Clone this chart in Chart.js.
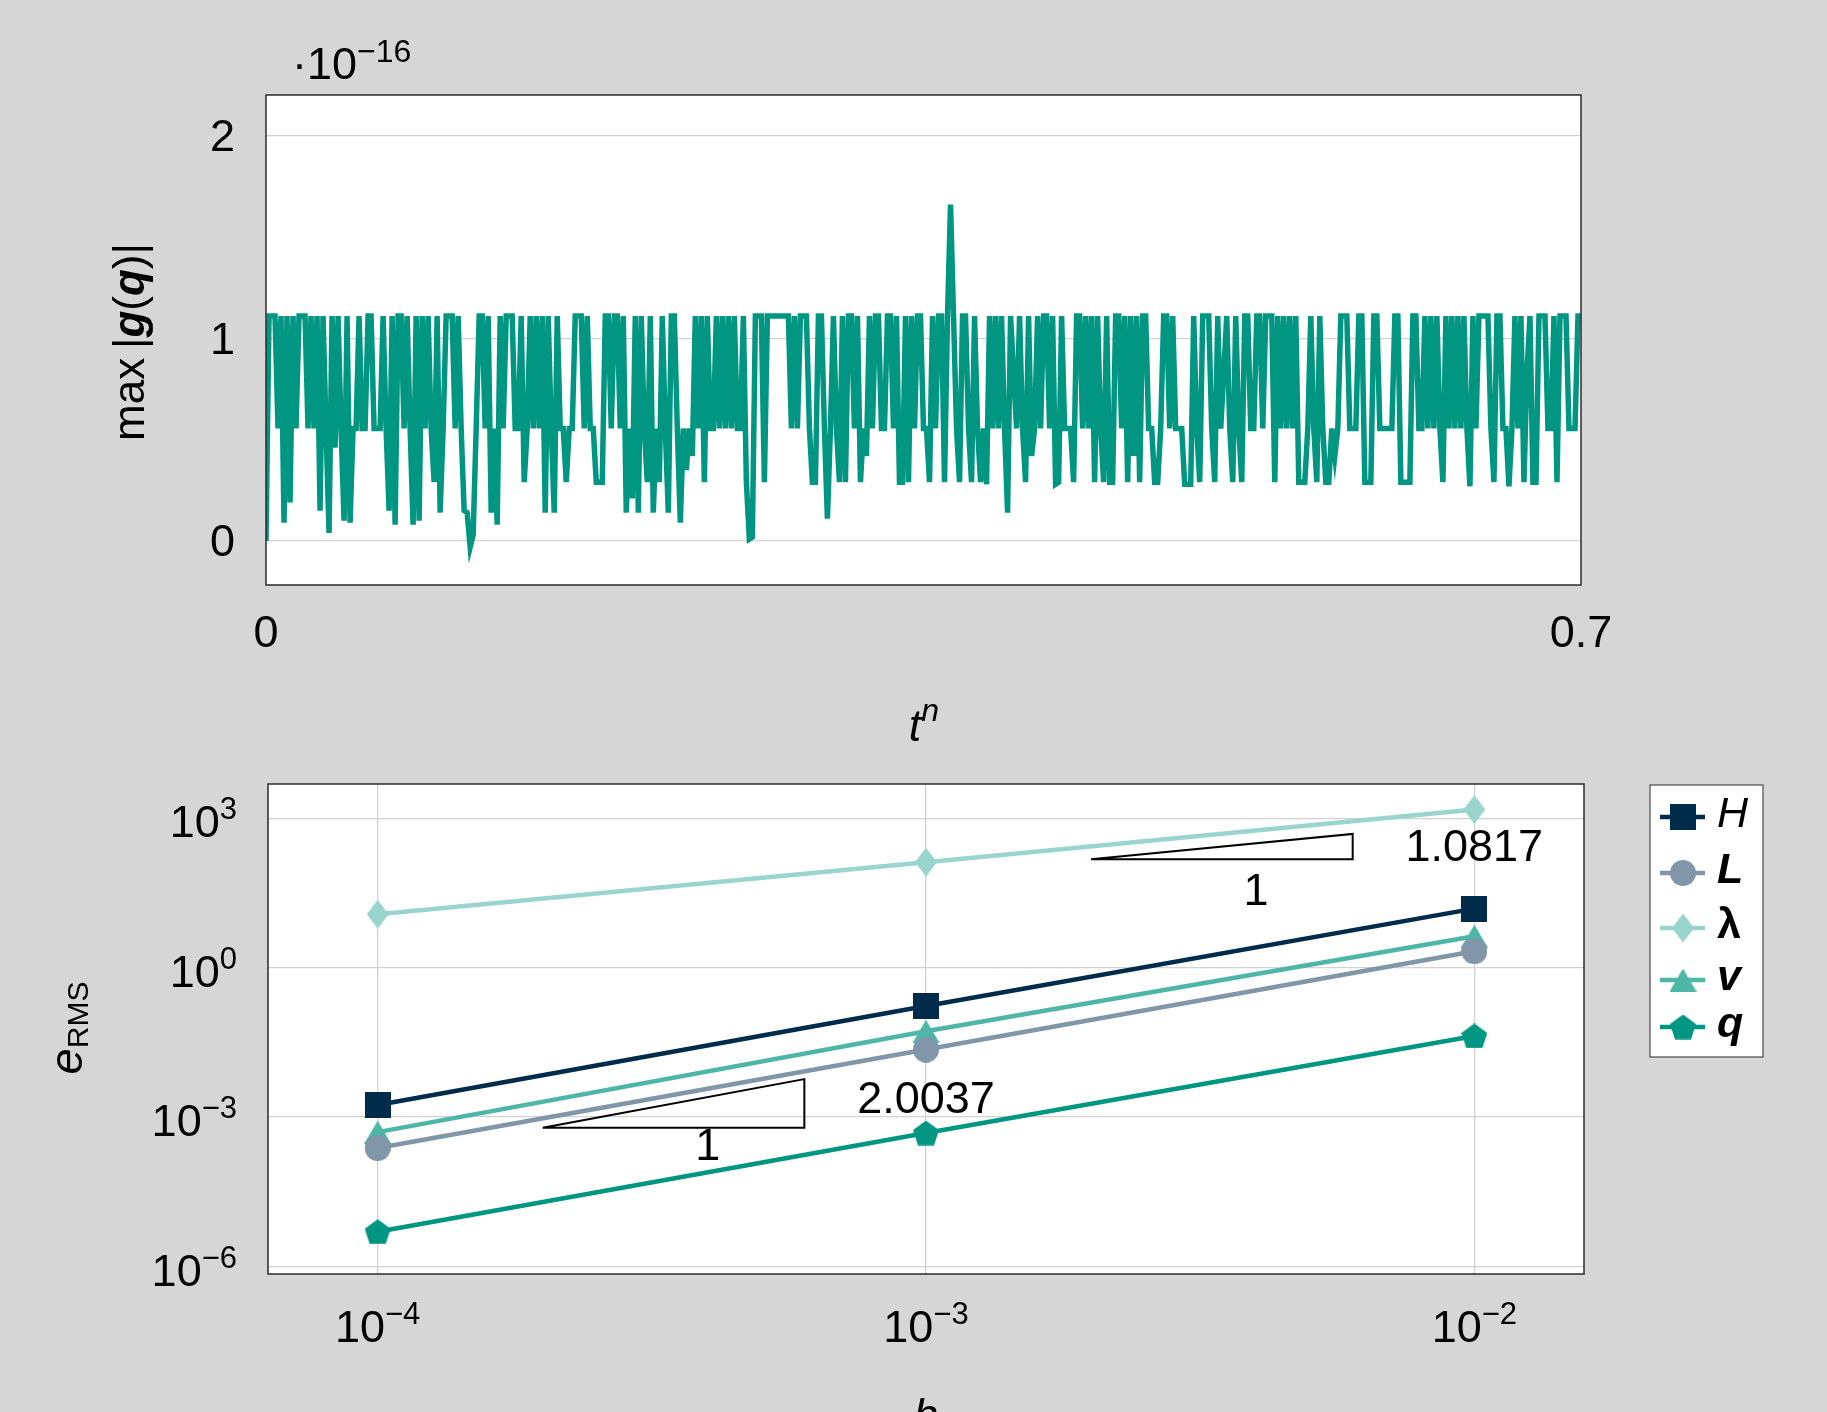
<!DOCTYPE html>
<html>
<head>
<meta charset="utf-8">
<script src="https://cdn.jsdelivr.net/npm/chart.js@4.4.1/dist/chart.umd.min.js"></script>
<style>
  html, body { margin: 0; padding: 0; background: #d6d6d6; }
  body { width: 1827px; height: 1412px; position: relative; overflow: hidden; }
  .box { position: absolute; left: 0; width: 1827px; }
  #topBox { top: 0; height: 760px; }
  #bottomBox { top: 760px; height: 652px; }
</style>
</head>
<body>
<div class="box" id="topBox"><canvas id="gChart"></canvas></div>
<div class="box" id="bottomBox"><canvas id="errChart"></canvas></div>
<script>
// ---- data: constraint residual max|g(q)| (units of 1e-16) over the time steps ----
const T = 1.11, M = 0.555;
const gMaxA = [0, T, T, T, M, T, .09, T, .19, T,
  M, T, T, T, M, T, M, T, .15, T,
  M, .04, T, .46, T, M, .1, T, .09, M,
  M, T, M, M, T, T, M, M, M, T,
  M, .15, T, .08, T, T, M, T, M, .08,
  T, .1, T, M, T, M, .29, T, .14, M,
  T, T, T, M, T, M, .15, .14, -.03, .03,
  M, T, T, M, T, .14, M, .08, T, M,
  T, T, T, M, M, T, .29, M, T, M,
  T, M, T, .14, T, M, .14, T, M, M,
  .29, M, M, T, T, T, M, T, M, M];
const gMaxB = [.29, .29, .29, T, T, M, T, T, M, T,
  .14, M, .21, T, .14, T, M, .29, T, .14,
  M, .29, T, M, .14, T, T, M, .09, M,
  .35, M, .42, T, M, T, .29, T, M, M,
  T, M, T, M, T, M, T, M, M, T,
  .29, .01, .02, T, T, T, .29, T, T, T,
  T, T, T, T, T, M, T, M, T, T,
  T, M, .29, .29, T, T, M, .11, M, T,
  M, .29, T, .29, T, T, M, T, .29, M,
  .42, T, M, T, T, M, M, T, T, M,
  T, .29, .29, T, .29, T, M, T, T, M];
const gMaxC = [M, .29, T, M, T, T, .29, T, 1.66, T,
  M, .29, T, T, M, .29, T, M, .29, M,
  .28, T, M, T, M, T, M, .14, T, .83,
  M, T, M, .29, T, .42, M, T, M, T,
  T, M, T, .28, .29, T, M, M, M, .29,
  T, T, M, T, M, T, .29, T, M, .29,
  T, .29, .29, T, T, M, T, .29, T, .42,
  T, .29, T, T, M, M, .29, .29, M, T,
  T, M, T, M, M, M, .28, .28, .28, T,
  M, .29, T, T, T, M, .29, T, M, .83,
  T, M, .29, T, M, .29, T, T, M, M];
const gMaxD = [T, T, M, T, T, T, .29, T, M, T,
  M, T, M, T, .29, .29, .29, M, T, M,
  .29, T, M, .29, .29, M, .42, M, T, T,
  T, M, M, M, T, T, .29, .29, .29, T,
  T, M, M, M, M, M, T, T, .29, .29,
  .29, .29, T, T, M, M, T, M, T, M,
  T, M, .29, T, M, T, M, T, M, T,
  M, .27, T, M, T, T, T, T, M, .29,
  T, T, M, M, .27, M, T, M, T, .29,
  .83, T, .29, .29, T, T, T, M, M, T,
  .29, T, T, T, M, M, M, T, T];
const gMax = gMaxA.concat(gMaxB, gMaxC, gMaxD);
const tEnd = 0.7;
const tn = gMax.map((_, i) => i * tEnd / (gMax.length - 1));
const gTicksX = [0, 0.7];
const gTicksY = [0, 1, 2];

// ---- data: RMS errors vs step size h ----
const hVals = [1e-4, 1e-3, 1e-2];
const errH = [1.75e-3, 0.17, 15.4];
const errL = [2.4e-4, 0.0228, 2.15];
const errLambda = [11.9, 132, 1500];
const errV = [5.0e-4, 0.053, 4.3];
const errQ = [5.0e-6, 4.8e-4, 0.0427];
const seriesNames = ['H', 'L', 'λ', 'v', 'q'];
const errTicksY = [1e-6, 1e-3, 1, 1e3];
const errTickExpY = ['−6', '−3', '0', '3'];
const errTickExpX = ['−4', '−3', '−2'];
// slope triangles
const triUpperH = [2e-3, 6e-3, 6e-3, 2e-3];
const triUpperE = [151, 151, 486, 151];
const triLowerH = [2e-4, 6e-4, 6e-4, 2e-4];
const triLowerE = [6.15e-4, 6.15e-4, 5.8e-3, 6.15e-4];
const rateUpper = '1.0817';
const rateLower = '2.0037';

// ---- helpers ----
const FAM = '"Liberation Sans", Arial, Helvetica, sans-serif';
const font = (size, style) => (style ? style + ' ' : '') + size + 'px ' + FAM;
Chart.defaults.font.family = FAM;
Chart.defaults.color = '#000';

function drawRuns(ctx, runs, x, y, align) {
  let w = 0;
  runs.forEach(r => { ctx.font = r[1]; w += ctx.measureText(r[0]).width; });
  let cx = align === 'center' ? x - w / 2 : align === 'right' ? x - w : x;
  ctx.textAlign = 'left';
  ctx.textBaseline = 'alphabetic';
  runs.forEach(r => {
    ctx.font = r[1];
    ctx.fillText(r[0], cx, y + (r[2] || 0));
    cx += ctx.measureText(r[0]).width;
  });
}

function markerCanvas(shape, color, w, h) {
  const c = document.createElement('canvas');
  c.width = w; c.height = h;
  const g = c.getContext('2d');
  g.fillStyle = color;
  g.beginPath();
  if (shape === 'square') g.rect(0, 0, w, h);
  else if (shape === 'circle') g.arc(w / 2, h / 2, w / 2, 0, 2 * Math.PI);
  else if (shape === 'diamond') { g.moveTo(w / 2, 0); g.lineTo(w, h / 2); g.lineTo(w / 2, h); g.lineTo(0, h / 2); }
  else if (shape === 'triangle') { g.moveTo(w / 2, 0); g.lineTo(w, h); g.lineTo(0, h); }
  else if (shape === 'pentagon') {
    const R = w / 1.902;
    for (let i = 0; i < 5; i++) {
      const a = -Math.PI / 2 + i * 2 * Math.PI / 5;
      g.lineTo(w / 2 + R * Math.cos(a), R + R * Math.sin(a));
    }
  }
  g.closePath();
  g.fill();
  return c;
}

const frame = {
  id: 'frame',
  beforeDraw(chart) {
    const a = chart.chartArea, c = chart.ctx;
    c.save();
    c.fillStyle = '#fff';
    c.fillRect(a.left, a.top, a.right - a.left, a.bottom - a.top);
    c.restore();
  },
  afterDraw(chart) {
    const a = chart.chartArea, c = chart.ctx;
    c.save();
    c.strokeStyle = '#2b2b2b';
    c.lineWidth = 1.5;
    c.strokeRect(a.left, a.top, a.right - a.left, a.bottom - a.top);
    c.restore();
  }
};

// ---- top chart ----
const topLabels = {
  id: 'topLabels',
  afterDraw(chart) {
    const c = chart.ctx;
    c.save();
    c.fillStyle = '#000';
    drawRuns(c, [['\u00b710', font(45)], ['\u221216', font(32), -17]], 292, 79, 'left');
    drawRuns(c, [['t', font(45, 'italic')], ['n', font(32, 'italic'), -20]], 924, 741, 'center');
    c.translate(144, 342);
    c.rotate(-Math.PI / 2);
    drawRuns(c, [['max\u2009|', font(44)], ['g', font(44, 'italic bold')], ['(', font(44)],
      ['q', font(44, 'italic bold')], [')|', font(44)]], 0, 0, 'center');
    c.restore();
  }
};

new Chart(document.getElementById('gChart'), {
  type: 'line',
  data: {
    datasets: [{
      data: gMax.map((v, i) => ({ x: tn[i], y: v })),
      borderColor: '#009682',
      borderWidth: 5.5,
      pointRadius: 0,
      tension: 0,
      fill: false,
    }],
  },
  options: {
    responsive: true,
    maintainAspectRatio: false,
    devicePixelRatio: 1,
    animation: false,
    events: [],
    layout: { padding: { top: 95, right: 246, left: 0, bottom: 0 } },
    plugins: { legend: { display: false }, tooltip: { enabled: false } },
    scales: {
      x: {
        type: 'linear', min: 0, max: tEnd,
        afterBuildTicks: s => { s.ticks = gTicksX.map(v => ({ value: v })); },
        afterFit: s => { s.height = 175; },
        grid: { display: false, drawTicks: false },
        border: { display: false },
        ticks: { font: { size: 45 }, padding: 23, maxRotation: 0, autoSkip: false },
      },
      y: {
        min: -0.217, max: 2.2,
        afterBuildTicks: s => { s.ticks = gTicksY.map(v => ({ value: v })); },
        afterFit: s => { s.width = 266; },
        grid: { color: '#d2d2d2', lineWidth: 1.3, drawTicks: false },
        border: { display: false },
        ticks: { font: { size: 45 }, padding: 31, labelOffset: 3 },
      },
    },
  },
  plugins: [frame, topLabels],
});

// ---- bottom chart ----
const seriesStyle = [
  { color: '#002b4b', shape: 'square', w: 26, h: 26 },
  { color: '#8196a8', shape: 'circle', w: 26, h: 26 },
  { color: '#99d5cd', shape: 'diamond', w: 22, h: 29 },
  { color: '#4db6a7', shape: 'triangle', w: 27, h: 23 },
  { color: '#009682', shape: 'pentagon', w: 26, h: 25 },
];
const seriesData = [errH, errL, errLambda, errV, errQ];
const seriesFonts = ['italic', 'italic bold', 'bold', 'italic bold', 'italic bold'];
const markers = seriesStyle.map(s => markerCanvas(s.shape, s.color, s.w, s.h));

const errDatasets = seriesData.map((vals, k) => ({
  label: seriesNames[k],
  data: hVals.map((h, i) => ({ x: h, y: vals[i] })),
  borderColor: seriesStyle[k].color,
  backgroundColor: seriesStyle[k].color,
  borderWidth: 4.5,
  pointStyle: markers[k],
  pointRadius: 13,
  tension: 0,
}));
const triangle = (xs, ys) => ({
  data: xs.map((x, i) => ({ x: x, y: ys[i] })),
  borderColor: '#000',
  borderWidth: 2,
  pointRadius: 0,
  tension: 0,
});

const errLabels = {
  id: 'errLabels',
  afterDraw(chart) {
    const c = chart.ctx, sx = chart.scales.x, sy = chart.scales.y;
    c.save();
    c.fillStyle = '#000';
    // tick labels with exponents
    hVals.forEach((h, i) => {
      drawRuns(c, [['10', font(45)], [errTickExpX[i], font(31), -18]], sx.getPixelForValue(h), 582, 'center');
    });
    errTicksY.forEach((v, i) => {
      drawRuns(c, [['10', font(45)], [errTickExpY[i], font(31), -18]], 237, sy.getPixelForValue(v) + 19, 'right');
    });
    // slope labels
    const put = (txt, x, y) => drawRuns(c, [[txt, font(45)]], sx.getPixelForValue(x), sy.getPixelForValue(y) + 16, 'center');
    put('1', 4e-3, 38);
    put(rateUpper, 1e-2, 294);
    put('1', 4e-4, 2.94e-4);
    put(rateLower, 1e-3, 2.58e-3);
    // axis titles
    drawRuns(c, [['h', font(45, 'italic')]], 926, 670, 'center');
    c.save();
    c.translate(82, 268);
    c.rotate(-Math.PI / 2);
    drawRuns(c, [['e', font(47, 'italic')], ['RMS', font(30), 6]], 0, 0, 'center');
    c.restore();
    // legend
    const L = 1650, Tp = 25, R = 1763, B = 297;
    c.fillStyle = '#fff';
    c.fillRect(L, Tp, R - L, B - Tp);
    c.strokeStyle = '#555';
    c.lineWidth = 1.3;
    c.strokeRect(L, Tp, R - L, B - Tp);
    const rows = [57, 113, 168, 220, 267];
    seriesNames.forEach((name, k) => {
      const y = rows[k];
      c.strokeStyle = seriesStyle[k].color;
      c.lineWidth = 4.5;
      c.beginPath();
      c.moveTo(1660, y);
      c.lineTo(1705, y);
      c.stroke();
      c.drawImage(markers[k], 1683 - seriesStyle[k].w / 2, y - seriesStyle[k].h / 2);
      c.fillStyle = '#000';
      drawRuns(c, [[name, font(43, seriesFonts[k])]], 1717, y + 10, 'left');
    });
    c.restore();
  }
};

new Chart(document.getElementById('errChart'), {
  type: 'line',
  data: {
    datasets: errDatasets.concat([triangle(triUpperH, triUpperE), triangle(triLowerH, triLowerE)]),
  },
  options: {
    responsive: true,
    maintainAspectRatio: false,
    devicePixelRatio: 1,
    animation: false,
    events: [],
    layout: { padding: { top: 24, right: 243, left: 0, bottom: 0 } },
    plugins: { legend: { display: false }, tooltip: { enabled: false } },
    scales: {
      x: {
        type: 'logarithmic', min: Math.pow(10, -4.2), max: Math.pow(10, -1.8),
        afterBuildTicks: s => { s.ticks = hVals.map(v => ({ value: v })); },
        afterFit: s => { s.height = 138; },
        grid: { color: '#d2d2d2', lineWidth: 1.3, drawTicks: false },
        border: { display: false },
        ticks: { display: false },
      },
      y: {
        type: 'logarithmic', min: Math.pow(10, -6.15), max: Math.pow(10, 3.69),
        afterBuildTicks: s => { s.ticks = errTicksY.map(v => ({ value: v })); },
        afterFit: s => { s.width = 268; },
        grid: { color: '#d2d2d2', lineWidth: 1.3, drawTicks: false },
        border: { display: false },
        ticks: { display: false },
      },
    },
  },
  plugins: [frame, errLabels],
});
</script>
</body>
</html>
